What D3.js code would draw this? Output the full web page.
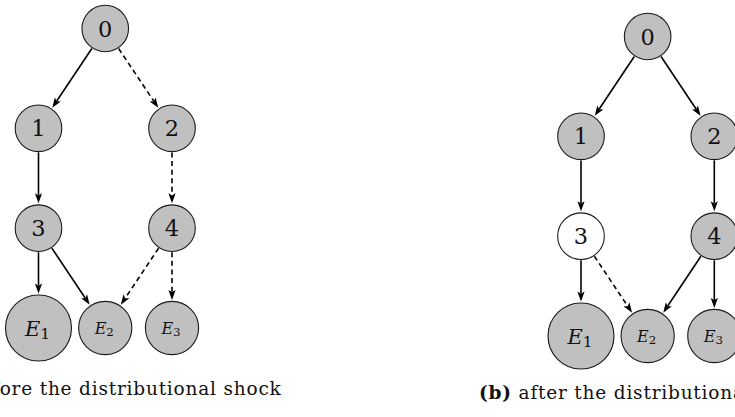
<!DOCTYPE html>
<html>
<head>
<meta charset="utf-8">
<script src="https://cdn.jsdelivr.net/npm/d3@7"></script>
<style>
  html, body { margin: 0; padding: 0; background: #fff; }
  svg { display: block; }
</style>
</head>
<body>
<svg id="chart" width="735" height="417"></svg>
<script>
// ---------- data ----------
const nodeIds   = ["0", "1", "2", "3", "4", "E1", "E2", "E3"];
const nodeCol   = [1, 0, 2, 0, 2, 0, 1, 2];
const nodeRow   = [0, 1, 1, 2, 2, 3, 3, 3];
const nodeKind  = ["state", "state", "state", "state", "state", "endBig", "end", "end"];

const edgeSource = ["0", "0", "1", "2", "3", "3", "4", "4"];
const edgeTarget = ["1", "2", "3", "4", "E1", "E2", "E2", "E3"];

// panel (a): before the shock
const edgeStyleA = ["solid", "dashed", "solid", "dashed", "solid", "solid", "dashed", "dashed"];
const nodeActiveA = [true, true, true, true, true, true, true, true];
// panel (b): after the shock
const edgeStyleB = ["solid", "solid", "solid", "solid", "solid", "dashed", "solid", "solid"];
const nodeActiveB = [true, true, true, false, true, true, true, true];

const captionLabels = ["(a)", "(b)"];
const captionTexts  = [" before the distributional shock", " after the distributional shock"];

// ---------- drawing ----------
const svg = d3.select("#chart");
const defsFont = "'DejaVu Serif', 'Liberation Serif', serif";

const radius = d3.scaleOrdinal().domain(["state", "end", "endBig"]).range([23.3, 26.6, 33]);
const fill = d3.scaleOrdinal().domain([true, false]).range(["#c0c0c0", "#ffffff"]);
const dash = d3.scaleOrdinal().domain(["solid", "dashed"]).range([null, "5,3.6"]);

const panels = [
  { x: [38.5, 172], y: [28.5, 328], edgeStyle: edgeStyleA, active: nodeActiveA, cx: 105.3, capY: 395 },
  { x: [581, 714.3], y: [36.5, 336], edgeStyle: edgeStyleB, active: nodeActiveB, cx: 647.7, capY: 399 }
];

panels.forEach((p, pi) => {
  const xs = d3.scaleLinear().domain([0, 2]).range(p.x);
  const ys = d3.scaleLinear().domain([0, 3]).range(p.y);
  const g = svg.append("g");

  const nodes = nodeIds.map((id, i) => ({
    id, x: xs(nodeCol[i]), y: ys(nodeRow[i]), r: radius(nodeKind[i]), active: p.active[i]
  }));
  const byId = new Map(nodes.map(n => [n.id, n]));

  const edges = edgeSource.map((s, i) => ({ s: byId.get(s), t: byId.get(edgeTarget[i]), style: p.edgeStyle[i] }));

  const headLen = 10, headHalf = 3.6;
  edges.forEach(e => {
    const dx = e.t.x - e.s.x, dy = e.t.y - e.s.y;
    const L = Math.hypot(dx, dy);
    const ux = dx / L, uy = dy / L;
    const x0 = e.s.x + ux * (e.s.r + 0.8), y0 = e.s.y + uy * (e.s.r + 0.8);
    const tx = e.t.x - ux * (e.t.r + 1.5), ty = e.t.y - uy * (e.t.r + 1.5);
    const bx = tx - ux * headLen, by = ty - uy * headLen;
    const lx = tx - ux * (headLen - 2), ly = ty - uy * (headLen - 2);
    g.append("line")
      .attr("x1", x0).attr("y1", y0).attr("x2", lx).attr("y2", ly)
      .attr("stroke", "#000").attr("stroke-width", 1.6)
      .attr("stroke-dasharray", dash(e.style));
    const px = -uy, py = ux;
    const nx = tx - ux * (headLen - 2.2), ny = ty - uy * (headLen - 2.2);
    g.append("path")
      .attr("d", `M${tx},${ty} L${bx + px * headHalf},${by + py * headHalf} L${nx},${ny} L${bx - px * headHalf},${by - py * headHalf} Z`)
      .attr("fill", "#000");
  });

  const ng = g.selectAll("g.node").data(nodes).join("g").attr("class", "node")
    .attr("transform", d => `translate(${d.x},${d.y})`);
  ng.append("circle").attr("r", d => d.r)
    .attr("fill", d => fill(d.active))
    .attr("stroke", "#1a1a1a").attr("stroke-width", 1.1);

  ng.each(function (d) {
    const sel = d3.select(this);
    if (d.id.startsWith("E")) {
      const big = d.r > 30;
      const fs = big ? 21 : 16;
      const t = sel.append("text")
        .attr("x", -1)
        .attr("y", big ? 7.5 : 5.5)
        .attr("text-anchor", "middle")
        .attr("font-family", defsFont)
        .attr("fill", "#111");
      t.append("tspan").attr("font-style", "italic").attr("font-size", fs).text("E");
      t.append("tspan").attr("font-size", fs * 0.74).attr("dy", big ? 3 : 2.5).text(d.id.slice(1));
    } else {
      sel.append("text")
        .attr("y", 8)
        .attr("text-anchor", "middle")
        .attr("font-family", defsFont)
        .attr("font-size", 22.5)
        .attr("fill", "#111")
        .text(d.id);
    }
  });

  const cap = svg.append("text")
    .attr("x", p.cx).attr("y", p.capY)
    .attr("text-anchor", "middle")
    .attr("font-family", defsFont)
    .attr("font-size", 18.5)
    .attr("letter-spacing", 0.8)
    .attr("fill", "#111");
  cap.append("tspan").attr("font-weight", "bold").text(captionLabels[pi]);
  cap.append("tspan").text(captionTexts[pi]);
});
</script>
</body>
</html>
